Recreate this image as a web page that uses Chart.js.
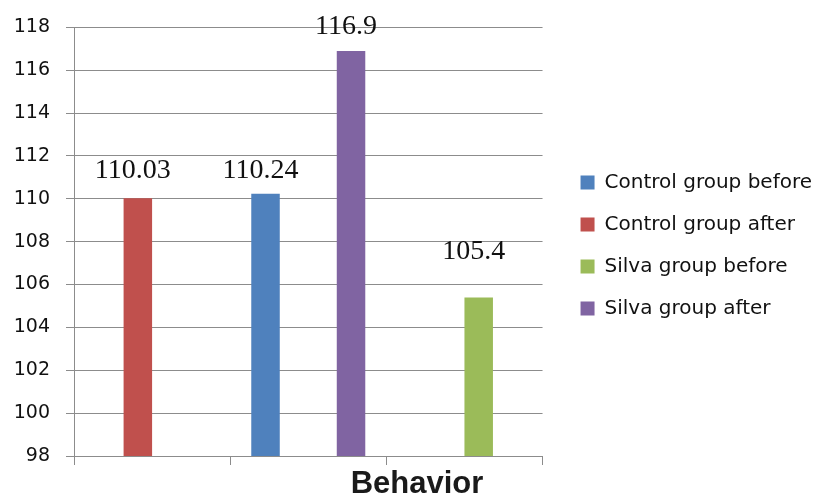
<!DOCTYPE html>
<html lang="en">

<head>
    <meta charset="UTF-8">
    <meta name="viewport" content="width=device-width, initial-scale=1.0">
    <title>Behavior</title>
    <script src="https://cdn.jsdelivr.net/npm/chart.js@4"></script>
    <style>
        html, body {
            margin: 0;
            padding: 0;
            background-color: #ffffff;
        }

        #wrap {
            width: 833px;
            height: 495px;
        }
    </style>
</head>

<body>
    <div id="wrap">
        <canvas id="myChart"></canvas>
    </div>

    <script>
        // Dados
        const categories = ['', '', ''];
        const controlBefore = [null, 110.24, null];
        const controlAfter = [110.03, null, null];
        const silvaBefore = [null, null, 105.4];
        const silvaAfter = [null, 116.9, null];
        const yMin = 98;
        const yMax = 118;
        const yStep = 2;
        const axisTitle = 'Behavior';

        // quanto cada rótulo fica acima da barra (px), por série
        const labelLift = [16, 20, 38, 17];

        const gray = '#8c8c8c';

        // Rótulos de valor em cima das barras + título do eixo
        const valueLabels = {
            id: 'valueLabels',
            afterDatasetsDraw(chart) {
                const ctx = chart.ctx;
                ctx.save();
                ctx.font = '28px "Liberation Serif", "Times New Roman", serif';
                ctx.fillStyle = '#111111';
                ctx.textAlign = 'center';
                ctx.textBaseline = 'alphabetic';
                chart.data.datasets.forEach((ds, i) => {
                    const meta = chart.getDatasetMeta(i);
                    meta.data.forEach((bar, j) => {
                        const v = ds.data[j];
                        if (v === null) return;
                        ctx.fillText(String(v), bar.x - 5, bar.y - labelLift[i]);
                    });
                });

                const area = chart.chartArea;
                ctx.font = 'bold 31px "Liberation Sans", Arial, sans-serif';
                ctx.fillStyle = '#1a1a1a';
                ctx.fillText(axisTitle, area.left + 0.732 * (area.right - area.left), 493);
                ctx.restore();
            }
        };

        const ctx = document.getElementById('myChart').getContext('2d');
        const data = {
            labels: categories,
            datasets: [
                { label: 'Control group before', data: controlBefore, backgroundColor: '#4F81BD' },
                { label: 'Control group after', data: controlAfter, backgroundColor: '#C0504D' },
                { label: 'Silva group before', data: silvaBefore, backgroundColor: '#9BBB59' },
                { label: 'Silva group after', data: silvaAfter, backgroundColor: '#8064A2' }
            ]
        };

        const config = {
            type: 'bar',
            data: data,
            options: {
                responsive: true,
                maintainAspectRatio: false,
                animation: false,
                categoryPercentage: 0.73,
                barPercentage: 1.0,
                layout: {
                    padding: { top: 26, bottom: 30, left: 0, right: 11 }
                },
                plugins: {
                    legend: {
                        position: 'right',
                        maxWidth: 300,
                        labels: {
                            boxWidth: 14,
                            boxHeight: 14,
                            padding: 22,
                            color: '#111111',
                            font: { family: '"DejaVu Sans", sans-serif', size: 20 }
                        }
                    },
                    tooltip: { enabled: false }
                },
                scales: {
                    x: {
                        grid: {
                            drawOnChartArea: false,
                            offset: true,
                            tickLength: 9,
                            color: gray
                        },
                        border: { color: gray },
                        ticks: { display: false }
                    },
                    y: {
                        min: yMin,
                        max: yMax,
                        afterFit: s => { s.width = 74; },
                        ticks: {
                            stepSize: yStep,
                            padding: 16,
                            color: '#111111',
                            font: { family: '"DejaVu Sans", sans-serif', size: 19 }
                        },
                        grid: { color: gray, tickLength: 8 },
                        border: { color: gray }
                    },
                    // eixo vazio só para afastar a legenda do gráfico
                    gap: {
                        position: 'right',
                        display: true,
                        afterFit: s => { s.width = 16; },
                        ticks: { display: false },
                        grid: { display: false, drawTicks: false },
                        border: { display: false }
                    }
                }
            },
            plugins: [valueLabels]
        };

        const myChart = new Chart(ctx, config);
    </script>
</body>

</html>
